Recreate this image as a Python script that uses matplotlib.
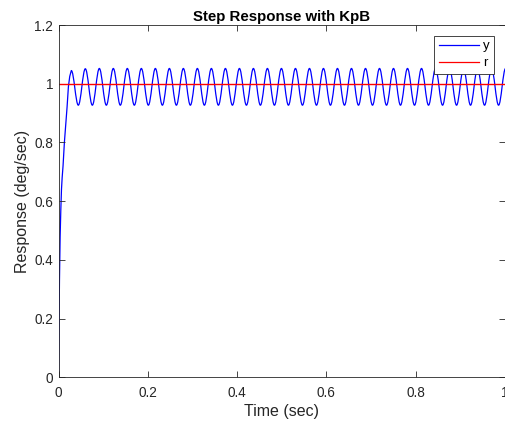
import matplotlib
matplotlib.use("Agg")
import matplotlib.pyplot as plt
from matplotlib.path import Path
from matplotlib.patches import PathPatch
from matplotlib.lines import Line2D

plt.rcParams['font.family'] = ['Liberation Sans', 'DejaVu Sans']

# initial rise of y
rise_t = [0.0, 0.001, 0.002, 0.0035, 0.005, 0.0065, 0.008, 0.010, 0.013, 0.016, 0.019, 0.022, 0.025]
rise_y = [0.0, 0.18, 0.33, 0.48, 0.57, 0.64, 0.68, 0.72, 0.80, 0.86, 0.92, 0.99, 1.025]

# peaks and troughs of the oscillation
peak_t = [0.0285, 0.0599, 0.0913, 0.1226, 0.1540, 0.1854, 0.2168, 0.2482,
          0.2795, 0.3109, 0.3423, 0.3737, 0.4051, 0.4364, 0.4678, 0.4992,
          0.5306, 0.5620, 0.5933, 0.6247, 0.6561, 0.6875, 0.7189, 0.7502,
          0.7816, 0.8130, 0.8444, 0.8758, 0.9071, 0.9385, 0.9699, 1.0013]
peak_y = [1.045, 1.051, 1.052, 1.052, 1.052, 1.052, 1.052, 1.052,
          1.052, 1.052, 1.052, 1.052, 1.052, 1.052, 1.052, 1.052,
          1.052, 1.052, 1.052, 1.052, 1.052, 1.052, 1.052, 1.052,
          1.052, 1.052, 1.052, 1.052, 1.052, 1.052, 1.052, 1.052]
trough_t = [0.0442, 0.0756, 0.1070, 0.1383, 0.1697, 0.2011, 0.2325, 0.2639,
            0.2952, 0.3266, 0.3580, 0.3894, 0.4208, 0.4521, 0.4835, 0.5149,
            0.5463, 0.5777, 0.6090, 0.6404, 0.6718, 0.7032, 0.7346, 0.7659,
            0.7973, 0.8287, 0.8601, 0.8915, 0.9228, 0.9542, 0.9856]
trough_y = [0.927, 0.927, 0.927, 0.927, 0.927, 0.927, 0.927, 0.927,
            0.927, 0.927, 0.927, 0.927, 0.927, 0.927, 0.927, 0.927,
            0.927, 0.927, 0.927, 0.927, 0.927, 0.927, 0.927, 0.927,
            0.927, 0.927, 0.927, 0.927, 0.927, 0.927, 0.927]

# reference r
r_t = [0.0, 1.0]
r_y = [1.0, 1.0]

xticks = [0, 0.2, 0.4, 0.6, 0.8, 1]
xtick_labels = ["0", "0.2", "0.4", "0.6", "0.8", "1"]
yticks = [0, 0.2, 0.4, 0.6, 0.8, 1, 1.2]
ytick_labels = ["0", "0.2", "0.4", "0.6", "0.8", "1", "1.2"]

gray = "#262626"

fig = plt.figure(figsize=(5.05, 4.24), dpi=100)
ax = fig.add_axes([0.116, 0.110, 0.884, 0.831])

# y: straight pieces for the rise, smooth curves between the extrema
ext_t = []
ext_y = []
for i in range(len(peak_t)):
    ext_t.append(peak_t[i])
    ext_y.append(peak_y[i])
    if i < len(trough_t):
        ext_t.append(trough_t[i])
        ext_y.append(trough_y[i])

verts = [(rise_t[0], rise_y[0])]
codes = [Path.MOVETO]
for t, v in zip(rise_t[1:], rise_y[1:]):
    verts.append((t, v))
    codes.append(Path.LINETO)
verts.append((ext_t[0], ext_y[0]))
codes.append(Path.LINETO)
k = 0.3642
for i in range(len(ext_t) - 1):
    t1, y1 = ext_t[i], ext_y[i]
    t2, y2 = ext_t[i + 1], ext_y[i + 1]
    d = (t2 - t1) * k
    verts += [(t1 + d, y1), (t2 - d, y2), (t2, y2)]
    codes += [Path.CURVE4] * 3

ax.add_patch(PathPatch(Path(verts, codes), facecolor="none", edgecolor="blue", lw=0.9))
ax.plot(r_t, r_y, color="red", lw=1.0)

ax.set_xlim(0, 1)
ax.set_ylim(0, 1.2)
ax.set_xticks(xticks)
ax.set_xticklabels(xtick_labels)
ax.set_yticks(yticks)
ax.set_yticklabels(ytick_labels)
ax.tick_params(direction="in", length=4, width=0.6, top=True, right=True,
               labelsize=9.8, colors=gray, pad=4)
ax.tick_params(axis="x", pad=6)
for s in ax.spines.values():
    s.set_color(gray)
    s.set_linewidth(0.6)

ax.set_title("Step Response with KpB", fontsize=10.8, fontweight="bold", color="black", pad=3)
ax.set_xlabel("Time (sec)", fontsize=11.5, color=gray, labelpad=3)
ax.set_ylabel("Response (deg/sec)", fontsize=11.5, color=gray, labelpad=3)

handles = [Line2D([], [], color="blue", lw=0.9), Line2D([], [], color="red", lw=0.9)]
leg = ax.legend(handles, ["y", "r"], loc="upper right", fontsize=9.5,
                fancybox=False, framealpha=1, edgecolor=gray,
                handlelength=3.0, handletextpad=0.35, borderaxespad=0.8,
                labelspacing=0.35, borderpad=0.35)
leg.get_frame().set_linewidth(0.6)

fig.savefig("out.png", dpi=100)
